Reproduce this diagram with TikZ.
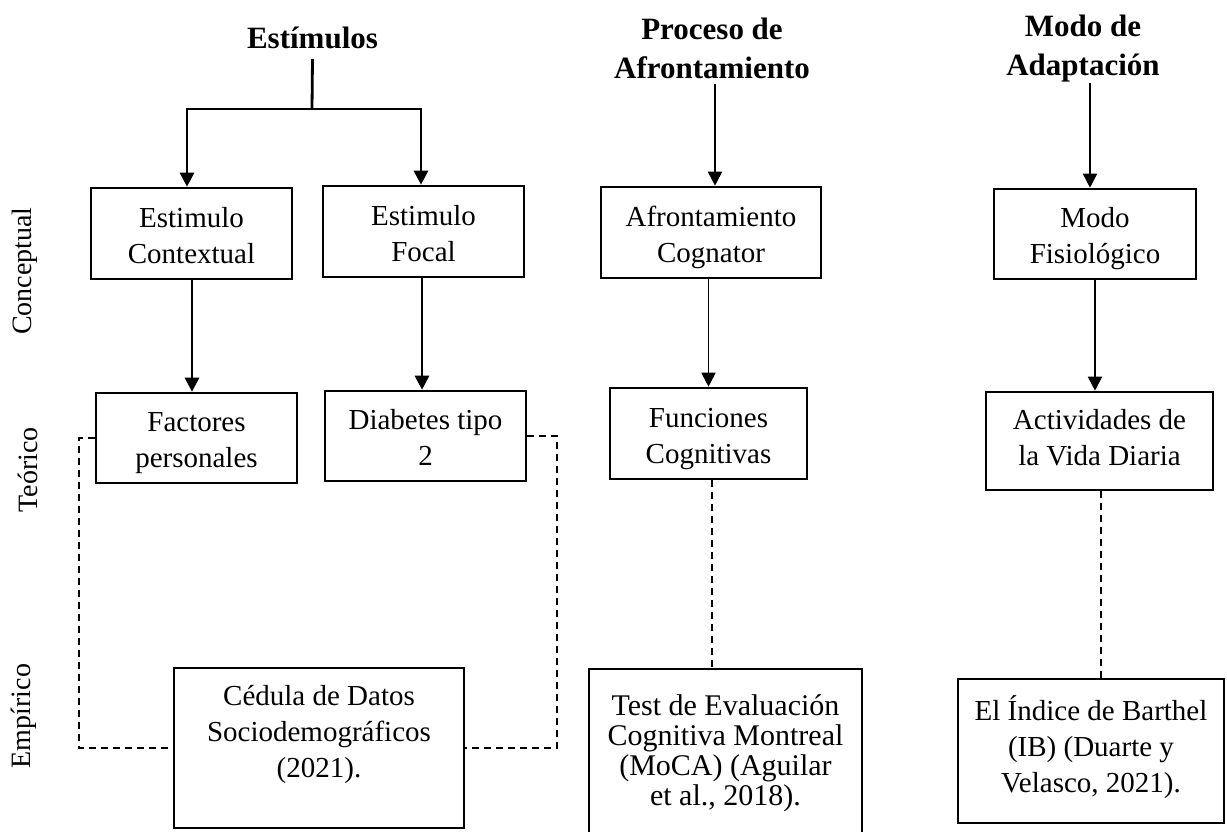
\documentclass[tikz,border=0pt]{standalone}
\usepackage{fontspec}
\setmainfont{Liberation Serif}
\usetikzlibrary{arrows.meta}
\begin{document}
\begin{tikzpicture}[x=1pt,y=-1pt,
  box/.style={draw, line width=2.6pt, inner sep=0pt, align=center,
    font=\fontsize{29}{36}\selectfont, text height=59pt, text depth=0pt},
  ttl/.style={align=center, anchor=base, inner sep=0pt,
    font=\fontsize{31}{39}\selectfont\bfseries},
  side/.style={rotate=90, inner sep=0pt, font=\fontsize{28}{34}\selectfont},
  conn/.style={line width=2.8pt},
  connb/.style={line width=2.8pt, -{Triangle[width=14pt,length=14pt]}},
  conna/.style={line width=1.8pt, -{Triangle[width=14pt,length=14pt]}},
  dline/.style={line width=1.8pt, dash pattern=on 7pt off 5pt},
]
\useasboundingbox (0,0) rectangle (1227,831);

% titles (anchor base = baseline of last line)
\node[ttl] (est) at (312.5,48) {Estímulos};
\node[ttl] (proc) at (712,78) {Proceso de\\Afrontamiento};
\node[ttl] (mtit) at (1083,75) {Modo de\\Adaptación};

% side labels
\node[side] (lc) at (25,271) {Conceptual};
\node[side] (lt) at (28,470) {Teórico};
\node[side] (le) at (24,716) {Empírico};

% conceptual row
\node[box, minimum width=201pt, minimum height=91pt] (ctx) at (191.5,233.5) {Estimulo\\Contextual};
\node[box, minimum width=201pt, minimum height=91pt] (foc) at (423.5,231.5) {Estimulo\\Focal};
\node[box, minimum width=220pt, minimum height=91pt] (afr) at (711,232.5) {Afrontamiento\\Cognator};
\node[box, minimum width=202pt, minimum height=90pt] (mod) at (1095,234) {Modo\\Fisiológico};

% theoretical row
\node[box, minimum width=201pt, minimum height=90pt] (fac) at (196.5,438) {Factores\\personales};
\node[box, minimum width=201pt, minimum height=90pt] (dia) at (425.5,436) {Diabetes tipo\\2};
\node[box, minimum width=197pt, minimum height=91pt] (fun) at (708.5,433.5) {Funciones\\Cognitivas};
\node[box, minimum width=227pt, minimum height=98pt, text height=48pt] (act) at (1099.5,441) {Actividades de\\la Vida Diaria};

% empirical row
\node[box, minimum width=290pt, minimum height=160pt, text height=58pt] (ced) at (319,748) {Cédula de Datos\\Sociodemográficos\\(2021).};
\node[box, minimum width=273pt, minimum height=167pt, text height=105pt, font=\fontsize{30}{30}\selectfont] (test) at (725.5,752.5) {Test de Evaluación\\Cognitiva Montreal\\(MoCA) (Aguilar\\et al., 2018).};
\node[box, minimum width=266pt, minimum height=144pt, text height=82pt] (bar) at (1091,751) {El Índice de Barthel\\(IB) (Duarte y\\Velasco, 2021).};

% connectors
\coordinate (split) at (312,109);
\draw[conn] ([yshift=-11pt]est.base) -- (split);
\draw[connb] (split) -| ([xshift=-4.5pt]ctx.north);
\draw[connb] (split) -| ([xshift=-2.5pt]foc.north);
\draw[connb] ([xshift=0.5pt]ctx.south) -- ([xshift=0.5pt]ctx.south |- fac.north);
\draw[connb] ([xshift=-1.5pt]foc.south) -- ([xshift=-1.5pt]foc.south |- dia.north);

\draw[conna] ([shift={(3pt,-5pt)}]proc.south) -- ([xshift=3pt]proc.south |- afr.north);
\draw[conna] (fun.north |- afr.south) -- (fun.north);
\draw[conna] ([shift={(7pt,-1pt)}]mtit.south) -- ([xshift=7pt]mtit.south |- mod.north);
\draw[conna] (mod.south) -- (mod.south |- act.north);

\draw[dline] ([xshift=3.5pt]fun.south) -- ([xshift=3.5pt]fun.south |- test.north);
\draw[dline] ([xshift=1.5pt]act.south) -- ([xshift=1.5pt]act.south |- bar.north);

\coordinate (lx) at (79,0);
\coordinate (rx) at (557,0);
\draw[dline] (fac.west) -| (lx |- ced.west) -- (ced.west);
\draw[dline] (dia.east) -| (rx |- ced.east) -- (ced.east);
\end{tikzpicture}
\end{document}
